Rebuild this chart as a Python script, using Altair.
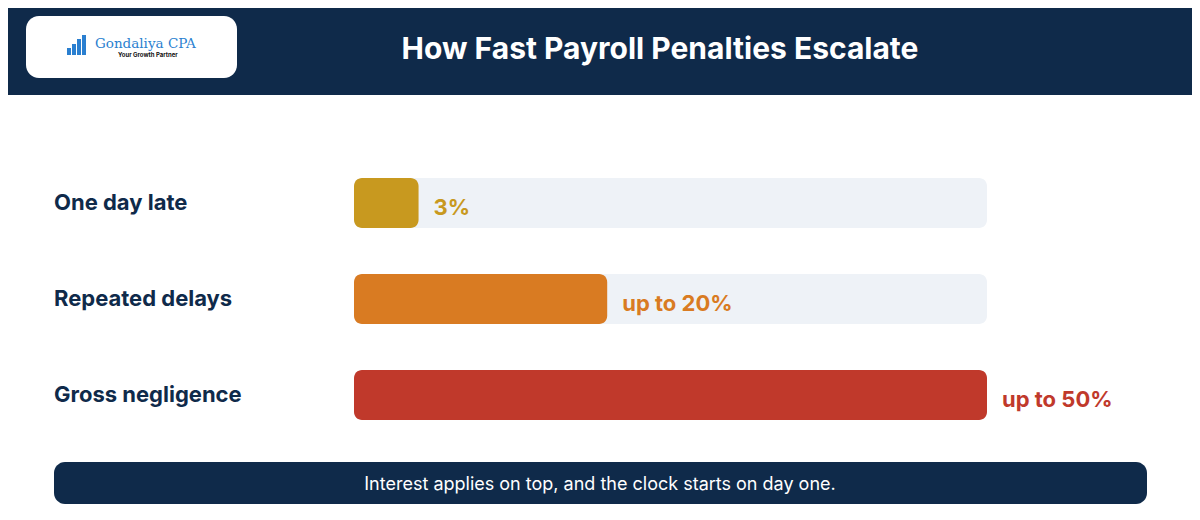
import altair as alt
import pandas as pd

# ---- data ----
categories = ["One day late", "Repeated delays", "Gross negligence"]
values = [3, 20, 50]
value_labels = ["3%", "up to 20%", "up to 50%"]
bar_colors = ["#c8991f", "#d97b22", "#c0392b"]
scale_max = [50]
min_visible = [5.1]  # bar shown at a minimum length for legibility
title_text = ["How Fast Payroll Penalties Escalate"]
footnote = ["Interest applies on top, and the clock starts on day one."]
logo_name = ["Gondaliya CPA"]
logo_tag = ["Your Growth Partner"]

NAVY = "#0f2a4a"
TRACK = "#eef2f7"
FONT = "Inter"

W, H = 1184, 504

df = pd.DataFrame({
    "cat": categories,
    "value": values,
    "label": value_labels,
})
df["zero"] = 0
df["full"] = scale_max[0]
df["shown"] = [max(v, min_visible[0]) for v in values]

one = pd.DataFrame({"a": [0]})

xscale = alt.Scale(domain=[0, scale_max[0]], range=[346, 979])
yscale = alt.Scale(domain=categories, range=[170, 412], paddingInner=46 / 96, paddingOuter=0)
cscale = alt.Scale(domain=categories, range=bar_colors)

# header band
header = alt.Chart(one).mark_rect(color=NAVY).encode(
    x=alt.value(-8), x2=alt.value(W), y=alt.value(-8), y2=alt.value(87)
)
logo_box = alt.Chart(one).mark_rect(color="white", cornerRadius=13).encode(
    x=alt.value(18), x2=alt.value(229), y=alt.value(8), y2=alt.value(70)
)
# small logo icon bars
icon_df = pd.DataFrame({"x0": [59, 64, 69, 74], "y0": [40, 36, 31, 27]})
icon = alt.Chart(icon_df).mark_rect(color="#2a7fd0").encode(
    x=alt.X("x0:Q", scale=None), x2=alt.X2("x1:Q"),
    y=alt.Y("y0:Q", scale=None), y2=alt.Y2("y1:Q"),
).transform_calculate(x1="datum.x0 + 4", y1="47")
logo_name_t = alt.Chart(pd.DataFrame({"t": logo_name})).mark_text(
    font="DejaVu Serif", fontSize=13.5, color="#2a7fd0", align="left", baseline="middle"
).encode(x=alt.value(87), y=alt.value(36), text="t:N")
logo_tag_t = alt.Chart(pd.DataFrame({"t": logo_tag})).mark_text(
    font=FONT, fontSize=6, fontWeight="bold", color="#111111", align="left", baseline="middle"
).encode(x=alt.value(110), y=alt.value(47), text="t:N")
title = alt.Chart(pd.DataFrame({"t": title_text})).mark_text(
    font=FONT, fontSize=30, fontWeight="bold", color="white", align="center", baseline="middle"
).encode(x=alt.value(652), y=alt.value(42), text="t:N")

# tracks, bars, labels
track = alt.Chart(df).mark_bar(color=TRACK, cornerRadius=8).encode(
    x=alt.X("zero:Q", scale=xscale, axis=None),
    x2="full:Q",
    y=alt.Y("cat:N", scale=yscale, axis=None),
)
bars = alt.Chart(df).mark_bar(cornerRadius=8).encode(
    x=alt.X("zero:Q", scale=xscale, axis=None),
    x2="shown:Q",
    y=alt.Y("cat:N", scale=yscale, axis=None),
    color=alt.Color("cat:N", scale=cscale, legend=None),
)
val_text = alt.Chart(df).mark_text(
    font=FONT, fontSize=22, fontWeight="bold", align="left", baseline="middle", dx=15, dy=5
).encode(
    x=alt.X("shown:Q", scale=xscale, axis=None),
    y=alt.Y("cat:N", scale=yscale, axis=None),
    text="label:N",
    color=alt.Color("cat:N", scale=cscale, legend=None),
)
cat_text = alt.Chart(df).mark_text(
    font=FONT, fontSize=22, fontWeight="bold", align="left", baseline="middle", color=NAVY
).encode(
    x=alt.value(46),
    y=alt.Y("cat:N", scale=yscale, axis=None),
    text="cat:N",
)

# footer
footer_box = alt.Chart(one).mark_rect(color=NAVY, cornerRadius=11).encode(
    x=alt.value(46), x2=alt.value(1139), y=alt.value(454), y2=alt.value(496)
)
footer_text = alt.Chart(pd.DataFrame({"t": footnote})).mark_text(
    font=FONT, fontSize=18, color="white", align="center", baseline="middle"
).encode(x=alt.value(592), y=alt.value(477), text="t:N")

chart = alt.layer(
    header, logo_box, icon, logo_name_t, logo_tag_t, title,
    track, bars, val_text, cat_text, footer_box, footer_text,
).properties(
    width=W, height=H, padding=0, autosize="none", background="white"
).configure_view(stroke=None, clip=False)

chart.save("out.html", embed_options={"renderer": "svg", "actions": False})
